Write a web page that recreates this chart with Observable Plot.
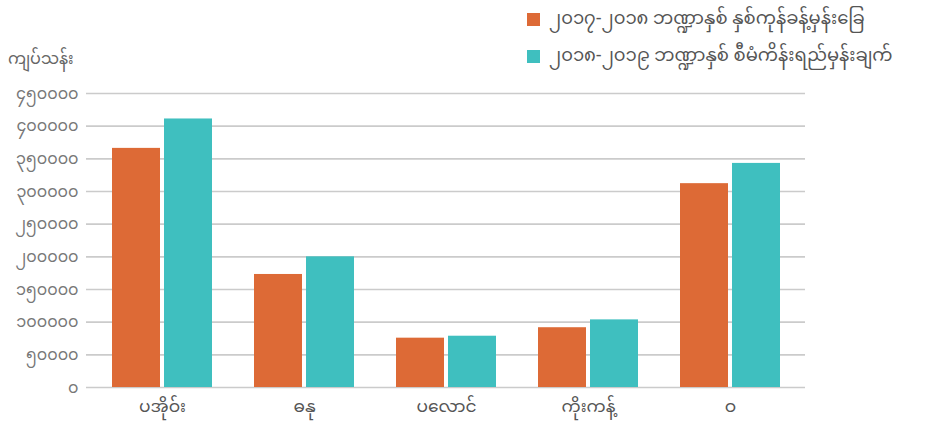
<!DOCTYPE html>
<html>
<head>
<meta charset="utf-8">
<script src="https://cdn.jsdelivr.net/npm/d3@7"></script>
<script src="https://cdn.jsdelivr.net/npm/@observablehq/plot@0.6"></script>
<style>
  html, body { margin: 0; padding: 0; background: #fff; }
  #wrap { position: relative; width: 929px; height: 428px; font-family: "Noto Sans Myanmar", "Padauk", "Myanmar Text", "Noto Sans", sans-serif; }
  #legend { position: absolute; left: 527px; top: 1px; font-size: 18px; color: #555; }
  #legend .row { display: flex; align-items: center; white-space: nowrap; height: 37px; line-height: 37px; }
  #legend .sw { width: 13px; height: 13px; margin-right: 9px; display: inline-block; flex: none; }
  #ylabel { position: absolute; left: 8px; top: 48px; font-size: 16px; color: #666; line-height: 26px; }
</style>
</head>
<body>
<div id="wrap">
  <div id="chart"></div>
  <div id="ylabel"></div>
  <div id="legend"></div>
</div>
<script>
const categories = ["ပအိုဝ်း", "ဓနု", "ပလောင်", "ကိုးကန့်", "ဝ"];
const seriesNames = ["၂၀၁၇-၂၀၁၈ ဘဏ္ဍာနှစ် နှစ်ကုန်ခန့်မှန်းခြေ", "၂၀၁၈-၂၀၁၉ ဘဏ္ဍာနှစ် စီမံကိန်းရည်မှန်းချက်"];
const estimate2017 = [366000, 173000, 75500, 91500, 312000];
const target2018 = [411000, 200000, 78500, 103500, 343000];
const yTicks = [0, 50000, 100000, 150000, 200000, 250000, 300000, 350000, 400000, 450000];
const yLabel = "ကျပ်သန်း";
const colors = ["#dd6a36", "#3fbfbf"];

const mmDigits = "၀၁၂၃၄၅၆၇၈၉";
const toMM = (n) => String(n).replace(/[0-9]/g, d => mmDigits[+d]);

const data = [];
categories.forEach((c, i) => {
  data.push({category: c, series: seriesNames[0], value: estimate2017[i]});
  data.push({category: c, series: seriesNames[1], value: target2018[i]});
});

const font = '"Noto Sans Myanmar", "Padauk", "Myanmar Text", "Noto Sans", sans-serif';

const chart = Plot.plot({
  width: 929,
  height: 428,
  marginLeft: 86,
  marginRight: 124,
  marginTop: 93,
  marginBottom: 41,
  style: {fontFamily: font, background: "transparent"},
  x: {domain: categories, paddingInner: 0.297, paddingOuter: 0.1685, label: null},
  y: {domain: [0, 450000], label: null},
  color: {domain: seriesNames, range: colors},
  marks: [
    Plot.ruleY(yTicks, {stroke: "#cbcbcb", strokeWidth: 1.6}),
    Plot.axisY({ticks: yTicks, tickFormat: toMM, tickSize: 0, tickPadding: 8, fontSize: 16, fill: "#777", label: null}),
    Plot.axisX({tickSize: 0, tickPadding: 12, fontSize: 17, fill: "#555", label: null}),
    Plot.barY(data.filter(d => d.series === seriesNames[0]), {x: "category", y: "value", fill: "series", insetRight: 52}),
    Plot.barY(data.filter(d => d.series === seriesNames[1]), {x: "category", y: "value", fill: "series", insetLeft: 52})
  ]
});
document.getElementById("chart").appendChild(chart);

document.getElementById("ylabel").textContent = yLabel;
const legend = document.getElementById("legend");
seriesNames.forEach((s, i) => {
  const row = document.createElement("div");
  row.className = "row";
  const sw = document.createElement("span");
  sw.className = "sw";
  sw.style.background = colors[i];
  const t = document.createElement("span");
  t.textContent = s;
  row.appendChild(sw);
  row.appendChild(t);
  legend.appendChild(row);
});
</script>
</body>
</html>
